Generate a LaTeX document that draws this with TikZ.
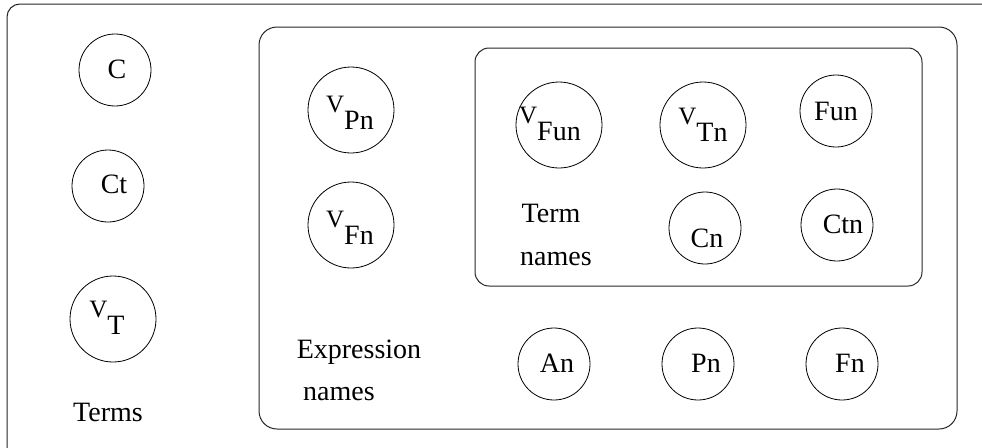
\documentclass[tikz,border=0pt]{standalone}
\usepackage{fontspec}
\setmainfont{Liberation Serif}
\newcommand\vsub[1]{\raisebox{17pt}{\fontsize{25}{27}\selectfont V}#1}
\tikzset{
  frame/.style={draw=black!85, line width=1pt},
  ring/.style={draw, circle, line width=0.8pt, inner sep=0pt, minimum size=72pt},
  bigring/.style={ring, minimum size=86pt},
  lab/.style={inner sep=0pt, font=\fontsize{28}{30}\selectfont},
  note/.style={lab, anchor=base},
}
\begin{document}
\begin{tikzpicture}[x=1pt, y=-1pt]
\useasboundingbox (0,0) rectangle (982,447);
% outer frame, running past the right and bottom edges
\begin{scope}
  \clip (0,0) rectangle (982,447);
  \draw[frame, rounded corners=13pt] (7,4) rectangle (1010,470);
\end{scope}
% expression names and term names
\draw[frame, rounded corners=18pt] (259,27) rectangle (957,429);
\draw[frame, rounded corners=14pt] (475,48) rectangle (922,286);

% terms
\node[ring] (c) at (115,70) {};
\node[ring] (ct) at (108,186) {};
\node[bigring] (vt) at (113,319) {};
\node[lab] (c-t) at (117,69) {C};
\node[lab] (ct-t) at (114,184) {Ct};
\node[lab] (vt-t) at (107,318) {\vsub{T}};
\node[note] (terms) at (108,421) {Terms};

% expression names
\node[bigring] (vpn) at (351,110) {};
\node[bigring] (vfn) at (351,225) {};
\node[lab] (vpn-t) at (350,113) {\vsub{Pn}};
\node[lab] (vfn-t) at (350,228) {\vsub{Fn}};
\node[note] (expr1) at (359,358) {Expression};
\node[note] (expr2) at (339,400) {names};

\node[ring] (an) at (554,364) {};
\node[ring] (pn) at (698,364) {};
\node[ring] (fn) at (842,364) {};
\node[lab] (an-t) at (557,363) {An};
\node[lab] (pn-t) at (706,363) {Pn};
\node[lab] (fn-t) at (850,363) {Fn};

% term names
\node[bigring] (vfun) at (559,125) {};
\node[bigring] (vtn) at (703,125) {};
\node[ring] (fun) at (836,111) {};
\node[ring] (cn) at (705,228) {};
\node[ring] (ctn) at (837,225) {};
\node[lab] (vfun-t) at (550,124) {\vsub{Fun}};
\node[lab] (vtn-t) at (703,125) {\vsub{Tn}};
\node[lab] (fun-t) at (836,111) {Fun};
\node[lab] (cn-t) at (707,238) {Cn};
\node[lab] (ctn-t) at (843,224) {Ctn};
\node[note] (tn1) at (551,222) {Term};
\node[note] (tn2) at (556,265) {names};
\end{tikzpicture}
\end{document}
